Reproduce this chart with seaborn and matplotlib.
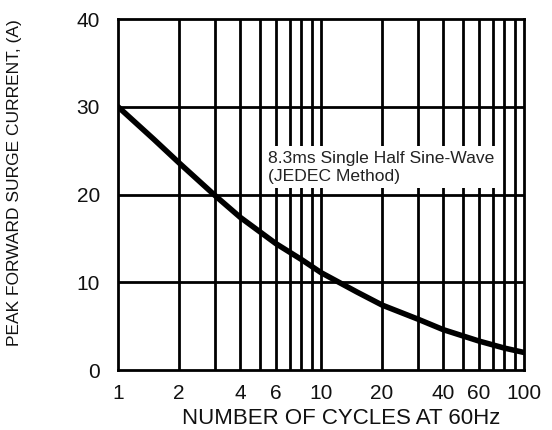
import matplotlib
matplotlib.use("Agg")
import matplotlib.pyplot as plt
import seaborn as sns
import pandas as pd
from matplotlib.ticker import FixedLocator, NullFormatter

cycles = [1, 1.5, 2, 3, 4, 6, 8, 10, 15, 20, 30, 40, 60, 80, 100]
current = [30, 26.3, 23.6, 19.9, 17.4, 14.4, 12.6, 11.1, 8.9, 7.4, 5.8, 4.6, 3.3, 2.5, 2.0]
xtick_vals = [1, 2, 4, 6, 10, 20, 40, 60, 100]
xtick_labels = ["1", "2", "4", "6", "10", "20", "40", "60", "100"]
grid_x = [2, 3, 4, 5, 6, 7, 8, 9, 10, 20, 30, 40, 50, 60, 70, 80, 90]
ytick_vals = [0, 10, 20, 30, 40]

sns.set_theme(style="white")
plt.rcParams["font.family"] = ["Liberation Sans", "DejaVu Sans"]

fig = plt.figure(figsize=(5.52, 4.30), dpi=100)
ax = fig.add_axes([0.2138, 0.1395, 0.9493 - 0.2138, 0.9558 - 0.1395])

df = pd.DataFrame({"cycles": cycles, "current": current})
ax.set_xscale("log")
ax.set_xlim(1, 100)
ax.set_ylim(0, 40)

for gx in grid_x:
    ax.axvline(gx, color="black", lw=2.0, zorder=1)
for gy in [10, 20, 30]:
    ax.axhline(gy, color="black", lw=2.0, zorder=1)

sns.lineplot(data=df, x="cycles", y="current", color="black", lw=4, ax=ax, zorder=3)

ax.text(5.5, 23.1, "8.3ms Single Half Sine-Wave\n(JEDEC Method)", fontsize=12.6,
        ha="left", va="center", color="#222222", linespacing=1.3,
        bbox=dict(facecolor="white", edgecolor="none", pad=3.0), zorder=2)

ax.xaxis.set_major_locator(FixedLocator(xtick_vals))
ax.set_xticklabels(xtick_labels)
ax.xaxis.set_minor_formatter(NullFormatter())
ax.set_yticks(ytick_vals)
ax.tick_params(axis="x", which="both", length=0, labelsize=15, pad=10, colors="#111111")
ax.tick_params(axis="y", which="both", length=0, labelsize=15, pad=13, colors="#111111")

for s in ax.spines.values():
    s.set_color("black")
    s.set_linewidth(2)

ax.set_xlabel("NUMBER OF CYCLES AT 60Hz", fontsize=16, color="#111111", va="center")
ax.xaxis.set_label_coords(0.549, -0.137)
ax.set_ylabel("PEAK FORWARD SURGE CURRENT, (A)", fontsize=12.5, color="#111111")
ax.yaxis.set_label_coords(-0.236, 0.533)

fig.savefig("out.png", dpi=100)
